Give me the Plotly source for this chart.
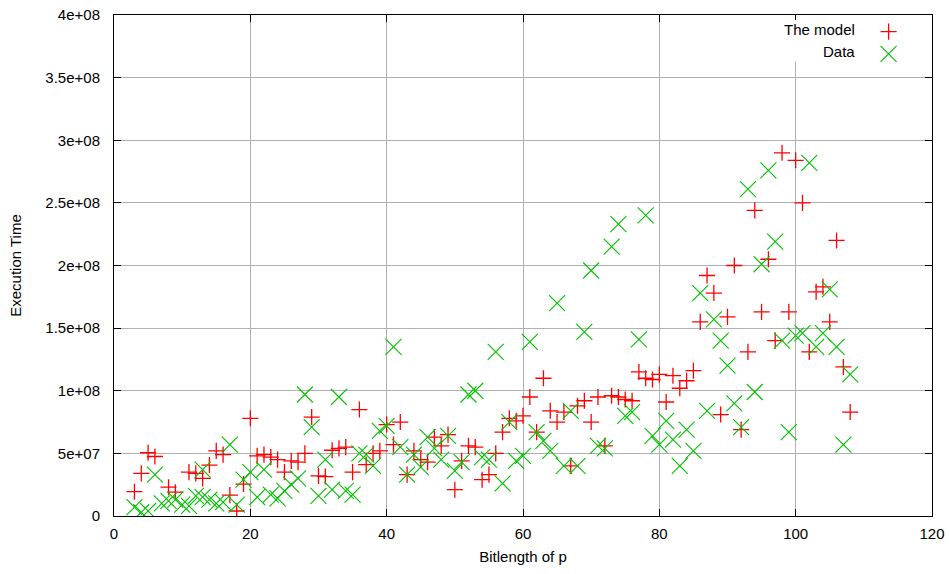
import plotly.graph_objects as go

# ---- data ----
model_x = [3, 4, 5, 6, 8, 9, 11, 12, 13, 14, 15, 16, 17, 18, 19, 20, 21, 22, 23, 24,
           25, 26, 27, 28, 29, 30, 31, 32, 33, 34, 35, 36, 37, 38, 39, 40, 41, 42, 43, 44,
           45, 46, 47, 48, 49, 50, 51, 52, 53, 54, 55, 56, 57, 58, 59, 60, 61, 62, 63, 64,
           65, 66, 67, 68, 69, 70, 71, 72, 73, 74, 75, 76, 77, 78, 79, 80, 81, 82, 83, 84,
           85, 86, 87, 88, 89, 90, 91, 92, 93, 94, 95, 96, 97, 98, 99, 100, 101, 102, 103, 104,
           105, 106, 107, 108]
model_y = [1.94e7, 3.4e7, 5.05e7, 4.75e7, 2.3e7, 1.9e7, 3.5e7, 3.4e7, 3.0e7, 4.06e7,
           5.2e7, 4.9e7, 1.67e7, 0.4e7, 2.55e7, 7.8e7, 4.8e7, 4.9e7, 4.7e7, 4.5e7,
           3.5e7, 4.4e7, 4.3e7, 5.0e7, 7.9e7, 3.2e7, 3.15e7, 5.25e7, 5.4e7, 5.5e7,
           3.5e7, 8.5e7, 4.1e7, 5.0e7, 5.2e7, 7.3e7, 5.7e7, 7.5e7, 3.3e7, 5.2e7,
           4.5e7, 4.3e7, 6.3e7, 5.6e7, 6.5e7, 2.1e7, 4.4e7, 5.6e7, 5.5e7, 2.9e7,
           3.3e7, 5.0e7, 6.7e7, 7.8e7, 7.6e7, 8.0e7, 9.5e7, 6.7e7, 1.1e8, 8.4e7,
           7.5e7, 8.3e7, 4.0e7, 8.8e7, 9.2e7, 7.5e7, 9.5e7, 5.6e7, 9.6e7, 9.5e7,
           9.3e7, 9.2e7, 1.15e8, 1.1e8, 1.09e8, 1.13e8, 9.1e7, 1.12e8, 1.02e8, 1.08e8,
           1.16e8, 1.55e8, 1.92e8, 1.78e8, 8.1e7, 1.59e8, 2.0e8, 6.9e7, 1.31e8, 2.44e8,
           1.63e8, 2.05e8, 1.4e8, 2.9e8, 1.63e8, 2.84e8, 2.5e8, 1.31e8, 1.79e8, 1.83e8,
           1.55e8, 2.2e8, 1.19e8, 8.3e7]

data_x = [3, 4, 5, 6, 7, 8, 9, 10, 11, 12, 13, 13, 14, 15, 16, 17, 18, 19, 20, 21,
          22, 23, 24, 25, 26, 27, 28, 29, 30, 31, 32, 33, 34, 35, 36, 37, 38, 39, 40, 41,
          42, 43, 44, 45, 46, 47, 48, 49, 50, 51, 52, 53, 54, 55, 56, 57, 58, 59, 60, 61,
          62, 63, 64, 65, 66, 67, 68, 69, 70, 71, 72, 73, 74, 75, 76, 77, 78, 79, 80, 81,
          82, 83, 84, 85, 86, 87, 88, 89, 90, 91, 92, 93, 94, 95, 96, 97, 98, 99, 100, 101,
          102, 103, 104, 105, 106, 107, 108]
data_y = [0.7e7, 0.3e7, 0.4e7, 3.3e7, 1.0e7, 1.2e7, 1.3e7, 0.9e7, 0.8e7, 1.6e7,
          3.7e7, 1.5e7, 1.3e7, 1.0e7, 1.1e7, 5.7e7, 0.9e7, 2.9e7, 3.5e7, 1.5e7,
          3.7e7, 1.7e7, 1.4e7, 2.0e7, 2.5e7, 3.0e7, 9.7e7, 7.1e7, 1.6e7, 4.5e7,
          2.1e7, 9.5e7, 2.0e7, 1.7e7, 5.0e7, 4.9e7, 4.0e7, 6.8e7, 7.2e7, 1.35e8,
          5.5e7, 3.3e7, 4.9e7, 3.9e7, 6.3e7, 5.4e7, 4.5e7, 6.4e7, 3.6e7, 4.3e7,
          9.7e7, 1.0e8, 4.7e7, 4.5e7, 1.31e8, 2.6e7, 7.5e7, 4.4e7, 4.8e7, 1.39e8,
          6.7e7, 6.0e7, 5.2e7, 1.7e8, 4.0e7, 8.4e7, 4.0e7, 1.47e8, 1.96e8, 5.6e7,
          5.4e7, 2.15e8, 2.33e8, 8.0e7, 8.3e7, 1.41e8, 2.4e8, 6.4e7, 5.7e7, 7.6e7,
          6.1e7, 4.0e7, 6.9e7, 5.2e7, 1.78e8, 8.4e7, 1.57e8, 1.4e8, 1.2e8, 9.0e7,
          7.1e7, 2.61e8, 9.9e7, 2.01e8, 2.76e8, 2.19e8, 1.4e8, 6.7e7, 1.44e8, 1.46e8,
          2.82e8, 1.35e8, 1.46e8, 1.81e8, 1.35e8, 5.7e7, 1.13e8]

series_names = ["The model", "Data"]
x_ticks = [0, 20, 40, 60, 80, 100, 120]
y_ticks = [0, 5e7, 1e8, 1.5e8, 2e8, 2.5e8, 3e8, 3.5e8, 4e8]
y_tick_labels = ["0", "5e+07", "1e+08", "1.5e+08", "2e+08", "2.5e+08", "3e+08", "3.5e+08", "4e+08"]
x_title = "Bitlength of p"
y_title = "Execution Time"

RED = "#ff0000"
GREEN = "#00c000"
FONT = "Liberation Sans, Arial, Helvetica, sans-serif"
FS = 15

fig = go.Figure()
fig.add_trace(go.Scatter(
    x=model_x, y=model_y, mode="markers", name=" ", legendgroup="a",
    marker=dict(symbol="cross-thin", size=11.5, color=RED,
                line=dict(color=RED, width=1.3)),
))
fig.add_trace(go.Scatter(
    x=data_x, y=data_y, mode="markers", name=" ", legendgroup="b",
    marker=dict(symbol="x-thin", size=16, color=GREEN,
                line=dict(color=GREEN, width=1.1)),
))

axis_common = dict(
    showline=True, linecolor="black", linewidth=1, mirror="allticks",
    ticks="inside", ticklen=7, tickcolor="black", tickwidth=1,
    showgrid=True, gridcolor="#b0b0b0", gridwidth=1, zeroline=False,
    automargin=False,
    tickfont=dict(family=FONT, size=FS, color="black"),
)

fig.update_xaxes(range=[0, 120], tickvals=x_ticks, ticktext=[str(v) for v in x_ticks],
                 ticklabelstandoff=4,
                 title=dict(text=x_title, font=dict(family=FONT, size=FS, color="black"), standoff=10),
                 **axis_common)
fig.update_yaxes(range=[0, 4e8], tickvals=y_ticks, ticktext=y_tick_labels,
                 ticklabelstandoff=10,
                 title=dict(text=y_title, font=dict(family=FONT, size=FS, color="black"), standoff=20),
                 **axis_common)

# legend: key area cleared like gnuplot's opaque key, text right-justified left of samples
fig.add_shape(type="rect", xref="paper", yref="paper", x0=0.80, x1=0.997, y0=0.907, y1=0.99,
              fillcolor="white", line=dict(width=0), layer="above")
fig.add_annotation(text=series_names[0], xref="paper", yref="paper", x=0.908, y=0.971,
                   xanchor="right", yanchor="middle", showarrow=False,
                   font=dict(family=FONT, size=FS, color="black"))
fig.add_annotation(text=series_names[1], xref="paper", yref="paper", x=0.908, y=0.927,
                   xanchor="right", yanchor="middle", showarrow=False,
                   font=dict(family=FONT, size=FS, color="black"))

fig.update_layout(
    width=950, height=574,
    margin=dict(l=114, r=18, t=15, b=58),
    paper_bgcolor="white", plot_bgcolor="white",
    showlegend=True,
    legend=dict(x=0.9824, y=0.998, xanchor="right", yanchor="top",
                bgcolor="rgba(0,0,0,0)", font=dict(family=FONT, size=14),
                tracegroupgap=1, itemwidth=30),
    font=dict(family=FONT, size=FS, color="black"),
)

fig.write_html("out.html")
